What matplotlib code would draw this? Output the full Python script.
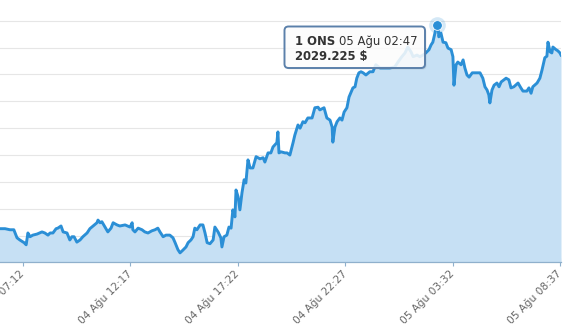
import matplotlib
matplotlib.use("Agg")
import matplotlib.pyplot as plt
import matplotlib.dates as mdates
from matplotlib.patches import FancyBboxPatch
from matplotlib.transforms import IdentityTransform
import numpy as np
import pandas as pd

# ---- data: minutes since 04 Aug 06:00 and gold price (USD / ounce) ----
start = pd.Timestamp("2020-08-04 06:00")
minutes = [0, 7, 21, 35, 46, 55, 63, 75, 81, 86, 92, 100, 112, 126, 134, 143, 149, 157, 166, 171,
           180, 186, 197, 205, 211, 217, 225, 234, 242, 254, 262, 271, 282, 285, 291, 296, 305, 313,
           322, 328, 339, 347, 362, 376, 382, 384, 390, 399, 410, 418, 427, 438, 447, 455, 461, 470,
           478, 489, 498, 504, 512, 518, 526, 535, 541, 549, 555, 560, 566, 575, 583, 589, 595, 603,
           612, 617, 626, 634, 637, 643, 651, 657, 663, 668, 674, 677, 683, 688, 694, 700, 705, 711,
           717, 725, 734, 745, 754, 759, 768, 776, 782, 793, 796, 799, 805, 816, 822, 830, 839, 844,
           853, 859, 867, 873, 881, 893, 901, 910, 915, 927, 935, 944, 950, 952, 958, 964, 972, 978,
           984, 992, 998, 1004, 1009, 1015, 1020, 1026, 1032, 1038, 1046, 1057, 1066, 1074, 1086,
           1103, 1114, 1128, 1137, 1148, 1157, 1165, 1174, 1180, 1191, 1199, 1208, 1216, 1225, 1231,
           1236, 1242, 1247, 1250, 1253, 1259, 1265, 1273, 1279, 1288, 1293, 1296, 1302, 1307, 1316,
           1322, 1327, 1333, 1339, 1348, 1362, 1370, 1378, 1384, 1390, 1395, 1398, 1404, 1410, 1418,
           1424, 1430, 1438, 1444, 1452, 1458, 1466, 1478, 1486, 1492, 1503, 1509, 1515, 1520, 1532,
           1540, 1546, 1554, 1560, 1563, 1569, 1574, 1577, 1586, 1591, 1597, 1600]
prices = [1991.3, 1991.3, 1991.3, 1991.1, 1991.1, 1989.6, 1989.2, 1988.7, 1988.3, 1990.5, 1989.8,
          1990.1, 1990.3, 1990.7, 1990.5, 1990.1, 1990.5, 1990.5, 1991.3, 1991.4, 1991.8, 1990.7,
          1990.5, 1989.2, 1989.8, 1989.8, 1988.8, 1989.2, 1989.8, 1990.5, 1991.3, 1991.8, 1992.4,
          1992.9, 1992.4, 1992.6, 1991.6, 1990.7, 1991.4, 1992.4, 1992.0, 1991.8, 1992.0, 1991.6,
          1992.4, 1991.1, 1990.7, 1991.4, 1991.1, 1990.7, 1990.5, 1990.9, 1991.1, 1991.4, 1990.7,
          1989.8, 1990.1, 1990.1, 1989.6, 1988.7, 1987.4, 1986.8, 1987.3, 1987.9, 1988.7, 1989.2,
          1989.8, 1991.4, 1991.1, 1992.0, 1992.0, 1990.5, 1988.7, 1988.5, 1989.2, 1991.6, 1990.7,
          1989.6, 1987.9, 1989.8, 1990.1, 1991.6, 1991.4, 1994.8, 1993.5, 1998.5, 1997.2, 1994.8,
          1998.0, 2000.4, 1999.8, 2004.1, 2002.6, 2002.6, 2004.7, 2004.3, 2004.5, 2003.7, 2005.4,
          2005.4, 2006.5, 2007.3, 2009.3, 2005.4, 2005.6, 2005.4, 2005.4, 2005.0, 2007.3, 2008.7,
          2010.6, 2010.0, 2011.2, 2011.0, 2011.9, 2011.9, 2013.8, 2013.9, 2013.4, 2013.8, 2011.9,
          2011.5, 2010.2, 2007.4, 2010.2, 2011.2, 2011.9, 2011.5, 2013.0, 2013.8, 2015.8, 2016.7,
          2017.5, 2017.7, 2019.3, 2020.3, 2020.5, 2020.3, 2019.9, 2020.5, 2020.5, 2021.8, 2021.2,
          2021.2, 2021.2, 2021.4, 2022.3, 2023.3, 2024.0, 2025.1, 2024.2, 2023.3, 2023.6, 2023.3,
          2023.6, 2024.0, 2024.6, 2025.5, 2026.0, 2027.7, 2029.225, 2029.8, 2027.0, 2027.7, 2026.0,
          2025.9, 2024.9, 2024.6, 2023.3, 2018.0, 2021.8, 2022.3, 2021.8, 2022.7, 2021.2, 2019.9,
          2019.5, 2020.3, 2020.3, 2020.3, 2019.3, 2017.7, 2017.1, 2016.2, 2014.7, 2017.1, 2018.0,
          2018.4, 2017.7, 2018.6, 2019.0, 2019.3, 2019.0, 2017.5, 2017.7, 2018.4, 2017.5, 2016.9,
          2016.9, 2017.5, 2016.5, 2017.7, 2018.4, 2019.3, 2020.8, 2023.1, 2023.4, 2026.0, 2024.2,
          2024.0, 2025.1, 2024.6, 2024.4, 2024.0, 2023.6]

tick_minutes = [72, 377, 682, 987, 1292, 1597]
tick_labels = ["04 Ağu 07:12", "04 Ağu 12:17", "04 Ağu 17:22",
               "04 Ağu 22:27", "05 Ağu 03:32", "05 Ağu 08:37"]
grid_values = [1990, 1995, 2000, 2005, 2010, 2015, 2020, 2025, 2030]

tooltip_minute = 1247
tooltip_series = "1 ONS"
tooltip_time = "05 Ağu 02:47"
tooltip_value = "2029.225 $"

# ---- build ----
times = [start + pd.Timedelta(minutes=m) for m in minutes]
tx = mdates.date2num(times)
ticks = mdates.date2num([start + pd.Timedelta(minutes=m) for m in tick_minutes])

W, H = 569, 326
fig = plt.figure(figsize=(W / 100, H / 100), dpi=100)
ax = fig.add_axes([0, (H - 262) / H, 561 / W, 262 / H])

line_c = "#2b8fd6"
fill_c = "#c6e0f4"
ybot = 1985.1
ax.fill_between(tx, prices, ybot, color=fill_c, lw=0, zorder=2)
ax.plot(tx, prices, color=line_c, lw=2.1, zorder=3, solid_joinstyle="round")

ax.set_xlim(mdates.date2num(start + pd.Timedelta(minutes=6.7)), tx[-1])
ax.set_ylim(ybot, 2033.85)

ax.set_yticks(grid_values)
ax.yaxis.grid(True, color="#e6e6e6", lw=0.8, zorder=0)
ax.set_axisbelow(True)
ax.tick_params(axis="y", left=False, labelleft=False)

ax.set_xticks(ticks)
ax.set_xticklabels(tick_labels, rotation=45, ha="right", va="center",
                   rotation_mode="anchor", fontsize=7.6, color="#666666")
ax.tick_params(axis="x", direction="inout", length=6, width=0.8, color="#8fb0cc", pad=4)

for s in ["top", "left", "right"]:
    ax.spines[s].set_visible(False)
ax.spines["bottom"].set_color("#8fb0cc")
ax.spines["bottom"].set_linewidth(0.9)

# hover marker
i = minutes.index(tooltip_minute)
ax.plot(tx[i], prices[i], "o", ms=12, color=line_c, alpha=0.2, mec="none", zorder=4)
ax.plot(tx[i], prices[i], "o", ms=7, color=line_c, mec="white", mew=0.6, zorder=5)

# tooltip (pixel layout)
ident = IdentityTransform()
bx0, by_top, bw, bh = 284.5, 26.5, 140.5, 41.5
shadow = FancyBboxPatch((bx0 + 1.5, H - by_top - bh - 1.5), bw, bh,
                        boxstyle="round,pad=0,rounding_size=4", transform=ident,
                        fc=(0, 0, 0, 0.08), ec="none", zorder=9)
box = FancyBboxPatch((bx0, H - by_top - bh), bw, bh,
                     boxstyle="round,pad=0,rounding_size=4", transform=ident,
                     fc=(1, 1, 1, 0.86), ec="#5b80aa", lw=1.4, zorder=10)
fig.add_artist(shadow)
fig.add_artist(box)

fs = 8.4
t1 = fig.text(295 / W, (H - 45) / H, tooltip_series, fontsize=fs, fontweight="bold",
              color="#333333", zorder=11)
fig.canvas.draw()
r = fig.canvas.get_renderer()
bb = t1.get_window_extent(r)
fig.text((bb.x1 + 4) / W, (H - 45) / H, tooltip_time, fontsize=fs, color="#333333", zorder=11)
fig.text(295 / W, (H - 60) / H, tooltip_value, fontsize=fs, fontweight="bold",
         color="#333333", zorder=11)

fig.savefig("out.png", dpi=100)
